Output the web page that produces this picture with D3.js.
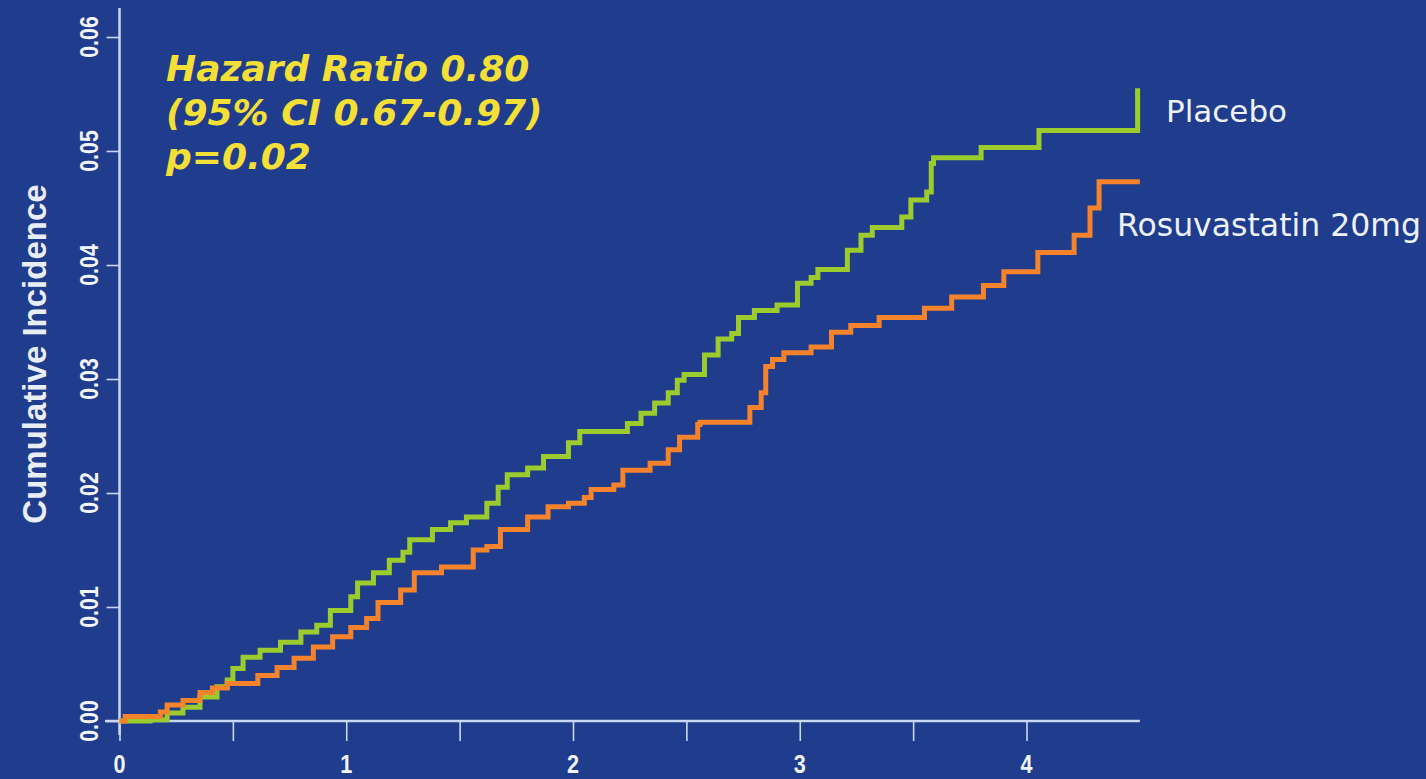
<!DOCTYPE html>
<html>
<head>
<meta charset="utf-8">
<script src="https://cdn.jsdelivr.net/npm/d3@7"></script>
<style>
  html, body { margin: 0; padding: 0; background: #1f3d8c; }
  svg { display: block; }
</style>
</head>
<body>
<svg id="chart" width="1426" height="779"></svg>
<script>
// Kaplan-Meier style cumulative incidence, step points (years, cumulative incidence)
const placeboTime = [0, 0.135, 0.21, 0.28, 0.355, 0.43, 0.475, 0.50, 0.545, 0.62, 0.71, 0.80, 0.87, 0.93, 1.02, 1.05, 1.12, 1.19, 1.25, 1.28, 1.38, 1.46, 1.53, 1.62, 1.67, 1.71, 1.80, 1.87, 1.98, 2.03, 2.24, 2.30, 2.36, 2.42, 2.46, 2.49, 2.58, 2.64, 2.70, 2.73, 2.80, 2.90, 2.99, 3.05, 3.08, 3.21, 3.27, 3.32, 3.45, 3.49, 3.56, 3.58, 3.59, 3.80, 4.055, 4.49];
const placeboRisk = [0, 0.0001, 0.0007, 0.0012, 0.0021, 0.0030, 0.0036, 0.0046, 0.0056, 0.0062, 0.0069, 0.0078, 0.0084, 0.0097, 0.0109, 0.0121, 0.0130, 0.0141, 0.0148, 0.0159, 0.0168, 0.0174, 0.0179, 0.0191, 0.0205, 0.0216, 0.0222, 0.0232, 0.0244, 0.0254, 0.0261, 0.0270, 0.0279, 0.0288, 0.0299, 0.0304, 0.0321, 0.0335, 0.0340, 0.0354, 0.0360, 0.0365, 0.0384, 0.0389, 0.0396, 0.0413, 0.0426, 0.0433, 0.0442, 0.0457, 0.0464, 0.0489, 0.0494, 0.0503, 0.0518, 0.0555];

const rosuTime = [0, 0.025, 0.18, 0.21, 0.28, 0.355, 0.41, 0.475, 0.61, 0.695, 0.77, 0.855, 0.94, 1.02, 1.09, 1.14, 1.24, 1.30, 1.42, 1.56, 1.62, 1.68, 1.80, 1.89, 1.98, 2.05, 2.08, 2.18, 2.22, 2.34, 2.42, 2.47, 2.55, 2.56, 2.78, 2.83, 2.85, 2.88, 2.93, 3.05, 3.14, 3.225, 3.35, 3.55, 3.67, 3.81, 3.90, 4.05, 4.21, 4.28, 4.32, 4.50];
const rosuRisk = [0, 0.0004, 0.0008, 0.0014, 0.0018, 0.0025, 0.0029, 0.0033, 0.0040, 0.0047, 0.0055, 0.0065, 0.0074, 0.0082, 0.0090, 0.0104, 0.0115, 0.0130, 0.0135, 0.0150, 0.0153, 0.0168, 0.0179, 0.0188, 0.0191, 0.0196, 0.0203, 0.0207, 0.0220, 0.0226, 0.0238, 0.0249, 0.0260, 0.0262, 0.0275, 0.0288, 0.0311, 0.0317, 0.0323, 0.0328, 0.0341, 0.0347, 0.0354, 0.0362, 0.0372, 0.0382, 0.0394, 0.0411, 0.0426, 0.0450, 0.0473, 0.0473];

const xTicks = [0, 0.5, 1, 1.5, 2, 2.5, 3, 3.5, 4];
const xLabels = [0, 1, 2, 3, 4];
const yTicks = [0, 0.01, 0.02, 0.03, 0.04, 0.05, 0.06];

const statsLines = ["Hazard Ratio 0.80", "(95% CI 0.67-0.97)", "p=0.02"];
const seriesNames = ["Placebo", "Rosuvastatin 20mg"];

const svg = d3.select("#chart");
const W = 1426, H = 779;
svg.append("rect").attr("width", W).attr("height", H).attr("fill", "#1f3d8c");

const x = d3.scaleLinear().domain([0, 4]).range([119.5, 1026.5]);
const y = d3.scaleLinear().domain([0, 0.06]).range([721, 37]);

const axisColor = "#c9d8f0";
const labelColor = "#f2f4fa";

// x axis
const gx = svg.append("g").attr("transform", `translate(0,${y(0)})`);
gx.append("line").attr("x1", 105).attr("x2", x(4.5)).attr("y1", 0).attr("y2", 0)
  .attr("stroke", axisColor).attr("stroke-width", 2.5);
gx.call(d3.axisBottom(x).tickValues(xTicks).tickSize(20).tickFormat(""))
  .call(g => g.select(".domain").remove())
  .call(g => g.selectAll(".tick line").attr("stroke", axisColor).attr("stroke-width", 1.6));
gx.selectAll(".xlab").data(xLabels).enter().append("text")
  .attr("class", "xlab")
  .attr("transform", d => `translate(${x(d)},52) scale(0.9,1.05)`)
  .attr("text-anchor", "middle")
  .attr("font-family", "Liberation Sans, Arial, sans-serif")
  .attr("font-weight", "bold").attr("font-size", 24)
  .attr("fill", labelColor)
  .text(d => d);

// y axis
const gy = svg.append("g").attr("transform", `translate(${x(0)},0)`);
gy.append("line").attr("x1", 0).attr("x2", 0).attr("y1", 8).attr("y2", 735)
  .attr("stroke", axisColor).attr("stroke-width", 2.5);
gy.call(d3.axisLeft(y).tickValues(yTicks).tickSize(13).tickFormat(""))
  .call(g => g.select(".domain").remove())
  .call(g => g.selectAll(".tick line").attr("stroke", axisColor).attr("stroke-width", 1.6));
gy.selectAll(".ylab").data(yTicks).enter().append("text")
  .attr("class", "ylab")
  .attr("transform", d => `translate(-22,${y(d)}) rotate(-90) scale(0.82,1)`)
  .attr("text-anchor", "middle")
  .attr("font-family", "Liberation Sans, Arial, sans-serif")
  .attr("font-weight", "bold").attr("font-size", 26)
  .attr("fill", labelColor)
  .text(d => d3.format(".2f")(d));

// y axis title
svg.append("text")
  .attr("transform", `translate(46,${(y(0) + y(0.06)) / 2 - 25}) rotate(-90)`)
  .attr("text-anchor", "middle")
  .attr("font-family", "Liberation Sans, Arial, sans-serif")
  .attr("font-weight", "bold").attr("font-size", 33)
  .attr("fill", "#e9edf6")
  .text("Cumulative Incidence");

// curves
const line = d3.line().x(d => x(d[0])).y(d => y(d[1])).curve(d3.curveStepAfter);
const placebo = placeboTime.map((t, i) => [t, placeboRisk[i]]);
const rosu = rosuTime.map((t, i) => [t, rosuRisk[i]]);

svg.append("path").datum(placebo).attr("d", line)
  .attr("fill", "none").attr("stroke", "#9ccb2e").attr("stroke-width", 5);
svg.append("path").datum(rosu).attr("d", line)
  .attr("fill", "none").attr("stroke", "#f4832c").attr("stroke-width", 5);

// series labels at the curve ends
svg.append("text").attr("x", 1166).attr("y", 122)
  .attr("font-family", "DejaVu Sans, Verdana, sans-serif")
  .attr("font-size", 31).attr("fill", "#eef1f8")
  .text(seriesNames[0]);
svg.append("text").attr("x", 1117).attr("y", 236)
  .attr("font-family", "DejaVu Sans, Verdana, sans-serif")
  .attr("font-size", 31.5).attr("fill", "#eef1f8")
  .text(seriesNames[1]);

// statistics annotation
svg.append("g").selectAll("text").data(statsLines).enter().append("text")
  .attr("x", 166).attr("y", (d, i) => 81 + i * 44)
  .attr("font-family", "DejaVu Sans, Verdana, sans-serif")
  .attr("font-weight", "bold").attr("font-style", "italic")
  .attr("font-size", 36).attr("fill", "#f3df36")
  .text(d => d);
</script>
</body>
</html>
